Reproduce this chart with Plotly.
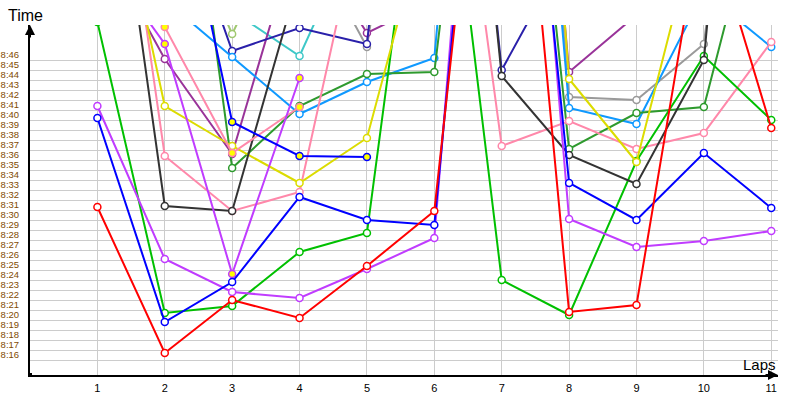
import plotly.graph_objects as go

laps = [1, 2, 3, 4, 5, 6, 7, 8, 9, 10, 11]

# times in minutes after 8:00 (values above 49 lie off the top of the chart)
red        = [30.8, 16.2, 21.5, 19.7, 24.9, 30.4, 92, 20.3, 21.0, 61, 38.7]
blue       = [39.7, 19.3, 23.3, 31.8, 29.5, 29.0, 100, 33.2, 29.5, 36.2, 30.7]
violet     = [40.9, 25.6, 22.3, 21.7, 24.6, 27.7, 110, 29.6, 26.8, 27.4, 28.4]
green      = [49.3, 20.2, 20.9, 26.3, 28.2, 79, 23.5, 20.0, 35.4, 45.9, 39.5]
dark_green = [85, 84.6, 34.7, 40.9, 44.1, 44.3, 100, 36.6, 40.2, 40.8, 66.9]
black      = [79, 30.9, 30.4, 53.9, 70, 110, 43.9, 36.0, 33.1, 45.5, 118]
pink_a     = [100, 48.8, 36.2, 40.8, None, None, None, None, None, None, None]
pink_b     = [83, 35.9, 30.4, 32.3, 62.8, 87, 36.9, 39.4, 36.6, 38.2, 47.3]
yellow     = [72, 40.9, 36.9, 33.2, 37.7, 62.9, 130, 43.6, 35.3, 61.7, None]
light_blue = [55, 51.5, 45.8, 40.1, 43.3, 45.7, 120, 40.7, 39.1, 52.3, 46.8]
purple     = [57.9, 45.6, 36.1, 58.9, 48.2, 51.5, 120, 44.3, 50, 55, 58]
gray       = [None, None, None, 59.2, 46.8, 90.8, 120, 41.8, 41.5, 47.1, 100]
teal       = [None, 56, 50.4, 45.9, 60.7, None, None, None, None, None, None]
navy       = [None, 65.5, 46.4, 48.7, 47.1, 110, 44.5, 56.8, None, None, None]
blue_b     = [None, 70.6, 39.3, 35.9, 35.8, None, None, None, None, None, None]
violet_b   = [56.5, 47.1, 24.1, 43.7, None, None, None, None, None, None, None]
light_green = [None, 63.4, 48.1, 62.1, None, None, None, None, None, None, None]

tick_minutes = list(range(16, 47))
tick_labels = ["8:%02d" % m for m in tick_minutes]
grid_minutes = [m - 0.5 for m in tick_minutes]

series = [
    ("light green", "#a0c870", light_green, "white"),
    ("teal", "#3ec8c8", teal, "white"),
    ("gray", "#9a9a9a", gray, "white"),
    ("purple", "#993399", purple, "white"),
    ("navy", "#2a20aa", navy, "white"),
    ("light blue", "#0f99ff", light_blue, "white"),
    ("dark green", "#2e9a2e", dark_green, "white"),
    ("pink b", "#ff88aa", pink_b, "white"),
    ("green", "#00c000", green, "white"),
    ("yellow", "#dcdc00", yellow, "white"),
    ("black", "#333333", black, "white"),
    ("pink a", "#ff88aa", pink_a, "#ffff00"),
    ("violet b", "#c03cff", violet_b, "#ffff00"),
    ("blue b", "#0000ff", blue_b, "#ffff00"),
    ("violet", "#c03cff", violet, "white"),
    ("blue", "#0000ff", blue, "white"),
    ("red", "#ff0000", red, "white"),
]

fig = go.Figure()
for name, color, vals, fill in series:
    fig.add_trace(go.Scatter(
        x=laps, y=vals, name=name, mode="lines+markers",
        line=dict(color=color, width=2),
        marker=dict(size=7, color=fill, line=dict(color=color, width=1.5)),
        connectgaps=False,
    ))

fig.update_layout(
    width=800, height=400,
    margin=dict(l=30, r=22, t=25, b=25, autoexpand=False),
    plot_bgcolor="white", paper_bgcolor="white",
    showlegend=False,
    font=dict(family="Liberation Sans"),
    xaxis=dict(
        range=[0, 11.1], tickmode="array", tickvals=laps,
        ticktext=[str(l) for l in laps],
        showgrid=True, gridcolor="#cccccc", gridwidth=1,
        showline=True, linecolor="black", linewidth=2,
        zeroline=False, ticks="", ticklabelstandoff=2, automargin=False,
        tickfont=dict(size=11, color="black", family="Liberation Sans"),
    ),
    yaxis=dict(
        range=[14, 49], tickmode="array", tickvals=tick_minutes,
        ticktext=tick_labels, showgrid=False,
        minor=dict(tickmode="array", tickvals=grid_minutes, showgrid=True,
                   gridcolor="#cccccc", gridwidth=1, ticks=""),
        showline=True, linecolor="black", linewidth=2,
        zeroline=False, ticks="", ticklabelstandoff=7, automargin=False,
        tickfont=dict(size=9.5, color="#7f4a00", family="Liberation Sans"),
    ),
    annotations=[
        dict(x=0, y=49, xref="x", yref="y", ax=0, ay=14, text="",
             showarrow=True, arrowhead=2, arrowsize=1, arrowwidth=2, arrowcolor="black"),
        dict(x=11.1, y=14, xref="x", yref="y", ax=-14, ay=0, text="",
             showarrow=True, arrowhead=2, arrowsize=1, arrowwidth=2, arrowcolor="black"),
        dict(x=0, y=1, xref="paper", yref="paper", text="Time", showarrow=False,
             xanchor="center", yanchor="middle", xshift=-5, yshift=10,
             font=dict(size=16, color="black", family="Liberation Sans")),
        dict(x=1, y=0, xref="paper", yref="paper", text="Laps", showarrow=False,
             xanchor="center", yanchor="middle", xshift=-19, yshift=11,
             font=dict(size=15, color="black", family="Liberation Sans")),
    ],
    shapes=[
        dict(type="rect", xref="x", yref="y", xsizemode="pixel", ysizemode="pixel",
             xanchor=0, yanchor=14, x0=-2, x1=2, y0=-2, y1=2,
             fillcolor="black", line=dict(width=0)),
    ],
)

fig.write_html("out.html", config={"displayModeBar": False},
               post_script="document.body.style.margin='0px';")
